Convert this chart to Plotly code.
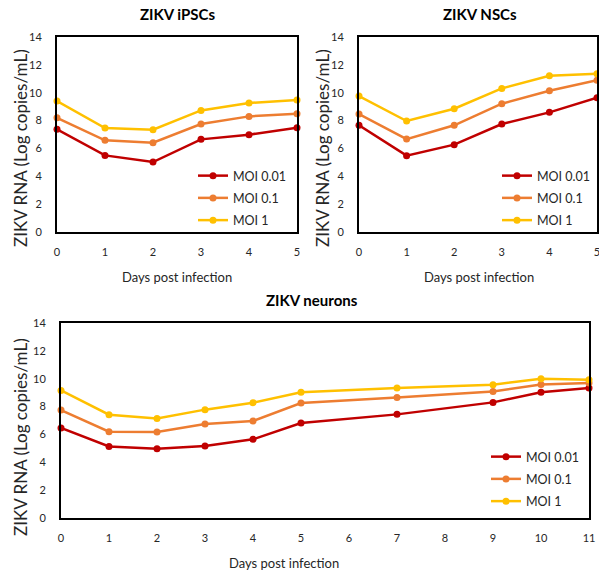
import plotly.graph_objects as go

W, H = 599, 579

series_names = ["MOI 0.01", "MOI 0.1", "MOI 1"]
colors = ["#C00000", "#ED7D31", "#FFC000"]

days_short = [0, 1, 2, 3, 4, 5]
ipsc_moi001 = [7.37, 5.5, 5.02, 6.65, 6.99, 7.49]
ipsc_moi01 = [8.2, 6.58, 6.41, 7.75, 8.3, 8.49]
ipsc_moi1 = [9.4, 7.46, 7.34, 8.73, 9.26, 9.47]

nsc_moi001 = [7.66, 5.48, 6.27, 7.75, 8.59, 9.64]
nsc_moi01 = [8.47, 6.67, 7.66, 9.21, 10.14, 10.9]
nsc_moi1 = [9.76, 7.97, 8.85, 10.31, 11.22, 11.36]

days_long = [0, 1, 2, 3, 4, 5, 7, 9, 10, 11]
neu_moi001 = [6.46, 5.14, 4.98, 5.17, 5.65, 6.82, 7.44, 8.3, 9.02, 9.33]
neu_moi01 = [7.75, 6.2, 6.17, 6.75, 6.96, 8.25, 8.66, 9.09, 9.59, 9.69]
neu_moi1 = [9.16, 7.42, 7.15, 7.78, 8.28, 9.02, 9.33, 9.57, 10.0, 9.93]

titles = ["ZIKV iPSCs", "ZIKV NSCs", "ZIKV neurons"]
x_title = "Days post infection"
y_title = "ZIKV RNA (Log copies/mL)"
y_ticks = [0, 2, 4, 6, 8, 10, 12, 14]

FONT = "Lato, 'Open Sans', sans-serif"
TXT = "#262626"

def px_x(p):
    return p / W

def px_y(p):
    return 1 - p / H

# panel boxes in pixels: (left, right, top, bottom)
boxes = [(57, 297, 37, 232), (359, 597, 37, 232), (61, 589, 323, 518)]
panels = [
    (days_short, [ipsc_moi001, ipsc_moi01, ipsc_moi1], 5),
    (days_short, [nsc_moi001, nsc_moi01, nsc_moi1], 5),
    (days_long, [neu_moi001, neu_moi01, neu_moi1], 11),
]
legend_pos = [(193, 161), (497, 161), (486, 442)]
title_pos = [(177, 14), (480, 14), (312, 300)]
xtitle_pos = [(177, 277), (479, 277), (284, 563)]
ytitle_pos = [(20, 148), (322, 148), (20, 437)]

fig = go.Figure()
layout = {}
annotations = []
for i, ((days, vals, xmax), (l, r, t, b)) in enumerate(zip(panels, boxes)):
    sfx = "" if i == 0 else str(i + 1)
    leg = "legend" if i == 0 else f"legend{i + 1}"
    for k, (name, col, v) in enumerate(zip(series_names, colors, vals)):
        fig.add_trace(go.Scatter(
            x=days, y=v, name=name, mode="lines+markers",
            line=dict(color=col, width=2.5),
            marker=dict(color=col, size=7),
            xaxis="x" + sfx, yaxis="y" + sfx, legend=leg,
            legendgroup=f"p{i}s{k}",
            cliponaxis=False,
        ))
    layout["xaxis" + sfx] = dict(
        domain=[px_x(l), px_x(r)], anchor="y" + sfx, automargin=False,
        range=[0, xmax], tickmode="linear", tick0=0, dtick=1,
        showline=True, linecolor="black", linewidth=2, mirror=True,
        showgrid=False, zeroline=False, ticks="",
        tickfont=dict(family=FONT, size=11, color=TXT),
        ticklabelstandoff=9, ticklabeloverflow="allow",
    )
    layout["yaxis" + sfx] = dict(
        domain=[px_y(b), px_y(t)], anchor="x" + sfx, automargin=False,
        range=[0, 14], tickvals=y_ticks,
        showline=True, linecolor="black", linewidth=2, mirror=True,
        showgrid=False, zeroline=False, ticks="",
        tickfont=dict(family=FONT, size=11, color=TXT),
        ticklabelstandoff=11, ticklabeloverflow="allow",
    )
    lx, ly = legend_pos[i]
    layout[leg] = dict(
        x=px_x(lx), y=px_y(ly), xanchor="left", yanchor="top",
        bgcolor="rgba(0,0,0,0)", font=dict(family=FONT, size=12.5, color=TXT),
        itemwidth=30, tracegroupgap=3,
    )
    tx, ty = title_pos[i]
    annotations.append(dict(
        text=f"<b>{titles[i]}</b>", x=px_x(tx), y=px_y(ty),
        xref="paper", yref="paper", showarrow=False,
        font=dict(family=FONT, size=15, color="black"),
        xanchor="center", yanchor="middle",
    ))
    xx, xy = xtitle_pos[i]
    annotations.append(dict(
        text=x_title, x=px_x(xx), y=px_y(xy),
        xref="paper", yref="paper", showarrow=False,
        font=dict(family=FONT, size=13, color=TXT),
        xanchor="center", yanchor="middle",
    ))
    yx, yy = ytitle_pos[i]
    annotations.append(dict(
        text=y_title, x=px_x(yx), y=px_y(yy), textangle=-90,
        xref="paper", yref="paper", showarrow=False,
        font=dict(family=FONT, size=17, color=TXT),
        xanchor="center", yanchor="middle",
    ))

fig.update_layout(
    width=W, height=H, margin=dict(l=0, r=0, t=0, b=0),
    paper_bgcolor="white", plot_bgcolor="white",
    annotations=annotations, **layout,
)
fig.write_html("out.html")
